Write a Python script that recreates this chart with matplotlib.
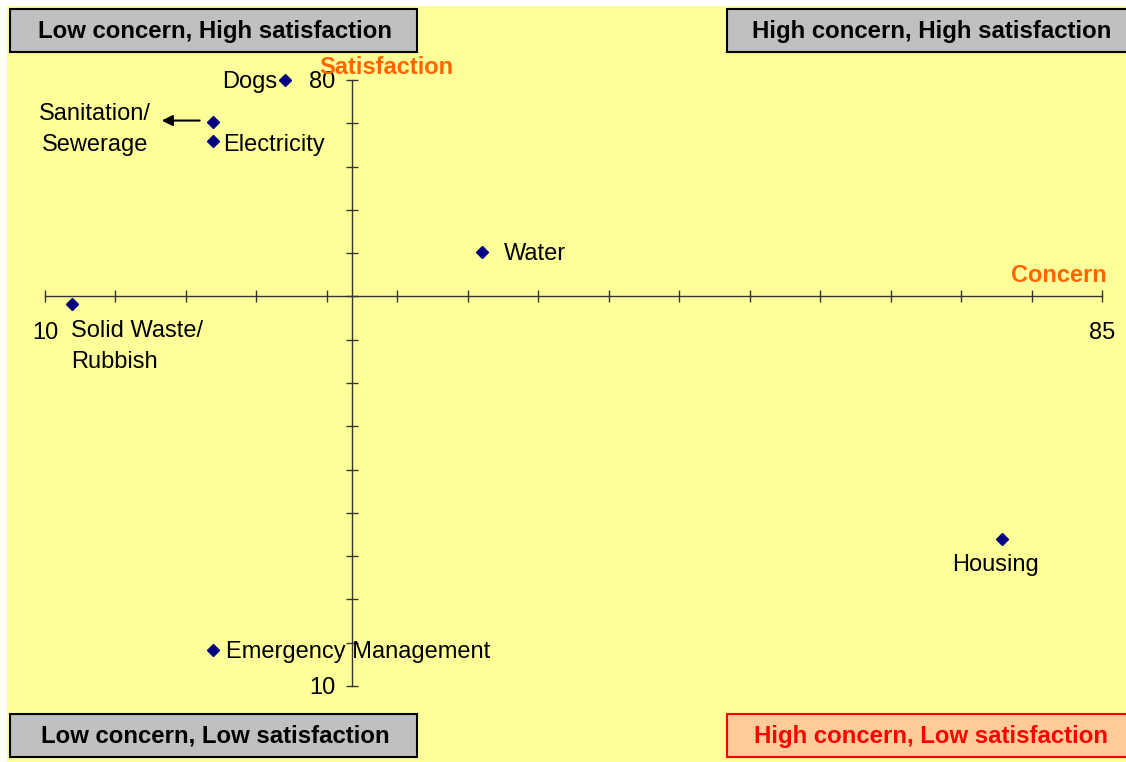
# plot.py
# -*- coding: utf-8 -*-

import numpy as np
import matplotlib
matplotlib.use("Agg")
import matplotlib.pyplot as plt
from matplotlib.patches import Rectangle
from matplotlib.ticker import MultipleLocator, FuncFormatter
from matplotlib.transforms import offset_copy


# =========================
# Data
# =========================
services = ["Dogs", "Sanitation/\nSewerage", "Electricity", "Water",
            "Solid Waste/\nRubbish", "Housing", "Emergency Management"]
concern = [27.0, 21.9, 21.9, 41.0, 11.9, 77.9, 21.9]
satisfaction = [80.0, 75.2, 73.0, 60.1, 54.1, 27.0, 14.2]

concern_range = (10, 85)
satisfaction_range = (10, 80)
concern_cross = 31.8       # where the satisfaction axis crosses
satisfaction_cross = 55.0  # where the concern axis crosses

quadrants = ["Low concern, High satisfaction", "High concern, High satisfaction",
             "Low concern, Low satisfaction", "High concern, Low satisfaction"]


# =========================
# Style
# =========================
W, H = 1126, 762
YELLOW = "#FFFF99"
GREY = "#C0C0C0"
SALMON = "#FFCC99"
ORANGE = "#FF6600"
NAVY = "#000080"
FS = 17

plt.rcParams["font.family"] = ["Liberation Sans", "DejaVu Sans"]


def fx(x):
    return x / W


def fy(y):
    return 1 - y / H


fig = plt.figure(figsize=(W / 100, H / 100), dpi=100)
fig.patch.set_facecolor("white")

# yellow chart area
fig.patches.append(Rectangle((fx(7), 0), 1 - fx(7), fy(6), transform=fig.transFigure,
                             facecolor=YELLOW, edgecolor="none", zorder=-10))

ax = fig.add_axes([fx(45), fy(686), fx(1102) - fx(45), fy(80) - fy(686)])
ax.set_zorder(2)
ax.set_facecolor("none")
ax.set_xlim(*concern_range)
ax.set_ylim(*satisfaction_range)

for s in ["top", "right"]:
    ax.spines[s].set_visible(False)
ax.spines["left"].set_position(("data", concern_cross))
ax.spines["bottom"].set_position(("data", satisfaction_cross))
for s in ["left", "bottom"]:
    ax.spines[s].set_color("#333333")
    ax.spines[s].set_linewidth(1.0)

ax.xaxis.set_major_locator(MultipleLocator(5))
ax.yaxis.set_major_locator(MultipleLocator(5))


def ends_only(lo, hi):
    def _f(v, pos):
        if abs(v - lo) < 1e-6 or abs(v - hi) < 1e-6:
            return f"{v:.0f}"
        return ""
    return FuncFormatter(_f)


ax.xaxis.set_major_formatter(ends_only(*concern_range))
ax.yaxis.set_major_formatter(ends_only(*satisfaction_range))
ax.tick_params(axis="x", direction="inout", length=8.6, width=1, color="#333333",
               labelsize=FS, pad=14)
ax.tick_params(axis="y", direction="inout", length=8.6, width=1, color="#333333",
               labelsize=FS, pad=8)

# points
ax.plot(concern, satisfaction, linestyle="none", marker="D", markersize=6,
        color=NAVY, clip_on=False, zorder=5)

# point labels (offsets in pixels)
label_pos = {
    "Dogs": ((-7, -2), "right", "center"),
    "Sanitation/\nSewerage": ((-118, -8), "center", "center"),
    "Electricity": ((10, -4), "left", "center"),
    "Water": ((22, -2), "left", "center"),
    "Solid Waste/\nRubbish": ((-1, -16), "left", "top"),
    "Housing": ((-6, -26), "center", "center"),
    "Emergency Management": ((13, -2), "left", "center"),
}
for name, cx, sy in zip(services, concern, satisfaction):
    off, ha, va = label_pos[name]
    ax.annotate(name, (cx, sy), xytext=off, textcoords="offset pixels",
                ha=ha, va=va, fontsize=FS, multialignment="left" if ha == "left" else "center",
                linespacing=1.5, annotation_clip=False)

# arrow next to the sanitation point
i_san = services.index("Sanitation/\nSewerage")
head = offset_copy(ax.transData, fig=fig, x=-51, y=1, units="dots")
ax.annotate("", xy=(concern[i_san], satisfaction[i_san]), xycoords=head,
            xytext=(38, 0), textcoords="offset pixels",
            arrowprops=dict(arrowstyle="-|>", color="black", lw=1.5,
                            mutation_scale=16, shrinkA=0, shrinkB=0),
            annotation_clip=False)

# axis titles
fig.text(fx(386), fy(67), "Satisfaction", color=ORANGE, fontsize=FS,
         fontweight="bold", ha="center", va="center", zorder=5)
fig.text(fx(1059), fy(276), "Concern", color=ORANGE, fontsize=FS,
         fontweight="bold", ha="center", va="center", zorder=5)


# =========================
# Quadrant boxes
# =========================
def quadrant_box(x0, y0, x1, y1, text, tx, face, edge, tcolor):
    fig.patches.append(Rectangle((fx(x0), fy(y1)), fx(x1) - fx(x0), fy(y0) - fy(y1),
                                 transform=fig.transFigure, facecolor=face,
                                 edgecolor=edge, linewidth=1.5, zorder=1))
    fig.text(fx(tx), fy((y0 + y1) / 2 + 1), text, color=tcolor, fontsize=17.3,
             fontweight="bold", ha="center", va="center", zorder=1.5)


quadrant_box(10, 9, 417, 52, quadrants[0], 215, GREY, "black", "black")
quadrant_box(727, 9, 1135, 52, quadrants[1], 932, GREY, "black", "black")
quadrant_box(10, 714, 417, 757, quadrants[2], 215, GREY, "black", "black")
quadrant_box(727, 714, 1135, 757, quadrants[3], 931, SALMON, "#FF0000", "#FF0000")

fig.savefig("out.png", dpi=100)
